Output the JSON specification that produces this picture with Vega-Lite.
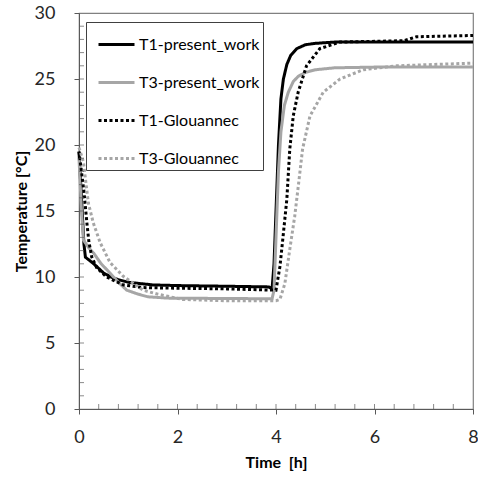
{
  "$schema": "https://vega.github.io/schema/vega-lite/v6.json",
  "width": 394,
  "height": 396,
  "autosize": {"type": "none"},
  "padding": {"left": 79, "top": 13, "right": 5, "bottom": 68},
  "config": {
    "view": {"stroke": "#808080", "strokeWidth": 1.2},
    "font": "Lato",
    "axis": {"domainColor": "#595959", "tickColor": "#595959", "grid": false, "labelColor": "#262626", "titleColor": "#000000", "labelFlush": false}
  },
  "datasets": {
    "xminor": [{"v": 0.4}, {"v": 0.8}, {"v": 1.2}, {"v": 1.6}, {"v": 2}, {"v": 2.4}, {"v": 2.8}, {"v": 3.2}, {"v": 3.6}, {"v": 4}, {"v": 4.4}, {"v": 4.8}, {"v": 5.2}, {"v": 5.6}, {"v": 6}, {"v": 6.4}, {"v": 6.8}, {"v": 7.2}, {"v": 7.6}],
    "yminor": [{"v": 1}, {"v": 2}, {"v": 3}, {"v": 4}, {"v": 5}, {"v": 6}, {"v": 7}, {"v": 8}, {"v": 9}, {"v": 10}, {"v": 11}, {"v": 12}, {"v": 13}, {"v": 14}, {"v": 15}, {"v": 16}, {"v": 17}, {"v": 18}, {"v": 19}, {"v": 20}, {"v": 21}, {"v": 22}, {"v": 23}, {"v": 24}, {"v": 25}, {"v": 26}, {"v": 27}, {"v": 28}, {"v": 29}],
    "curves": [
    {"s": "T1-present_work", "t": 0, "T": 19.5},
    {"s": "T1-present_work", "t": 0.05, "T": 16},
    {"s": "T1-present_work", "t": 0.1, "T": 12.5},
    {"s": "T1-present_work", "t": 0.13, "T": 11.5},
    {"s": "T1-present_work", "t": 0.3, "T": 11.0},
    {"s": "T1-present_work", "t": 0.5, "T": 10.3},
    {"s": "T1-present_work", "t": 0.7, "T": 9.9},
    {"s": "T1-present_work", "t": 1.0, "T": 9.6},
    {"s": "T1-present_work", "t": 1.5, "T": 9.4},
    {"s": "T1-present_work", "t": 2.0, "T": 9.35},
    {"s": "T1-present_work", "t": 3.0, "T": 9.3},
    {"s": "T1-present_work", "t": 3.85, "T": 9.25},
    {"s": "T1-present_work", "t": 3.92, "T": 9.1},
    {"s": "T1-present_work", "t": 3.96, "T": 11},
    {"s": "T1-present_work", "t": 4.0, "T": 15},
    {"s": "T1-present_work", "t": 4.05, "T": 20},
    {"s": "T1-present_work", "t": 4.1, "T": 23.5},
    {"s": "T1-present_work", "t": 4.15, "T": 25.0},
    {"s": "T1-present_work", "t": 4.22, "T": 26.1},
    {"s": "T1-present_work", "t": 4.3, "T": 26.8},
    {"s": "T1-present_work", "t": 4.42, "T": 27.3},
    {"s": "T1-present_work", "t": 4.6, "T": 27.6},
    {"s": "T1-present_work", "t": 4.8, "T": 27.7},
    {"s": "T1-present_work", "t": 5.2, "T": 27.8},
    {"s": "T1-present_work", "t": 8.0, "T": 27.8},
    {"s": "T3-present_work", "t": 0, "T": 19},
    {"s": "T3-present_work", "t": 0.05, "T": 15},
    {"s": "T3-present_work", "t": 0.09, "T": 12.8},
    {"s": "T3-present_work", "t": 0.2, "T": 12.2},
    {"s": "T3-present_work", "t": 0.3, "T": 11.8},
    {"s": "T3-present_work", "t": 0.45, "T": 11.0},
    {"s": "T3-present_work", "t": 0.63, "T": 10.3},
    {"s": "T3-present_work", "t": 0.8, "T": 9.6},
    {"s": "T3-present_work", "t": 0.97, "T": 9.0},
    {"s": "T3-present_work", "t": 1.2, "T": 8.7},
    {"s": "T3-present_work", "t": 1.4, "T": 8.5},
    {"s": "T3-present_work", "t": 1.8, "T": 8.4},
    {"s": "T3-present_work", "t": 3.92, "T": 8.35},
    {"s": "T3-present_work", "t": 3.96, "T": 9},
    {"s": "T3-present_work", "t": 4.0, "T": 13},
    {"s": "T3-present_work", "t": 4.05, "T": 18},
    {"s": "T3-present_work", "t": 4.1, "T": 21},
    {"s": "T3-present_work", "t": 4.17, "T": 23},
    {"s": "T3-present_work", "t": 4.25, "T": 24.0},
    {"s": "T3-present_work", "t": 4.35, "T": 24.8},
    {"s": "T3-present_work", "t": 4.45, "T": 25.2},
    {"s": "T3-present_work", "t": 4.6, "T": 25.5},
    {"s": "T3-present_work", "t": 4.8, "T": 25.7},
    {"s": "T3-present_work", "t": 5.2, "T": 25.85},
    {"s": "T3-present_work", "t": 6.0, "T": 25.9},
    {"s": "T3-present_work", "t": 8.0, "T": 25.9},
    {"s": "T1-Glouannec", "t": 0, "T": 19.5},
    {"s": "T1-Glouannec", "t": 0.05, "T": 18},
    {"s": "T1-Glouannec", "t": 0.1, "T": 16.5},
    {"s": "T1-Glouannec", "t": 0.16, "T": 14.1},
    {"s": "T1-Glouannec", "t": 0.2, "T": 12.7},
    {"s": "T1-Glouannec", "t": 0.26, "T": 11.5},
    {"s": "T1-Glouannec", "t": 0.36, "T": 10.7},
    {"s": "T1-Glouannec", "t": 0.56, "T": 10.0},
    {"s": "T1-Glouannec", "t": 0.9, "T": 9.4},
    {"s": "T1-Glouannec", "t": 1.3, "T": 9.2},
    {"s": "T1-Glouannec", "t": 2.0, "T": 9.15},
    {"s": "T1-Glouannec", "t": 3.0, "T": 9.1},
    {"s": "T1-Glouannec", "t": 4.0, "T": 9.0},
    {"s": "T1-Glouannec", "t": 4.08, "T": 10.8},
    {"s": "T1-Glouannec", "t": 4.15, "T": 13.3},
    {"s": "T1-Glouannec", "t": 4.22, "T": 15.9},
    {"s": "T1-Glouannec", "t": 4.28, "T": 19.7},
    {"s": "T1-Glouannec", "t": 4.35, "T": 22.2},
    {"s": "T1-Glouannec", "t": 4.45, "T": 24.0},
    {"s": "T1-Glouannec", "t": 4.62, "T": 26.0},
    {"s": "T1-Glouannec", "t": 4.89, "T": 27.3},
    {"s": "T1-Glouannec", "t": 5.3, "T": 27.8},
    {"s": "T1-Glouannec", "t": 6.6, "T": 27.9},
    {"s": "T1-Glouannec", "t": 6.85, "T": 28.2},
    {"s": "T1-Glouannec", "t": 8.0, "T": 28.3},
    {"s": "T3-Glouannec", "t": 0, "T": 19.8},
    {"s": "T3-Glouannec", "t": 0.05, "T": 19.2},
    {"s": "T3-Glouannec", "t": 0.09, "T": 18.7},
    {"s": "T3-Glouannec", "t": 0.19, "T": 15.6},
    {"s": "T3-Glouannec", "t": 0.29, "T": 14.1},
    {"s": "T3-Glouannec", "t": 0.43, "T": 12.6},
    {"s": "T3-Glouannec", "t": 0.63, "T": 11.1},
    {"s": "T3-Glouannec", "t": 0.9, "T": 10.05},
    {"s": "T3-Glouannec", "t": 1.3, "T": 9.0},
    {"s": "T3-Glouannec", "t": 1.6, "T": 8.7},
    {"s": "T3-Glouannec", "t": 1.85, "T": 8.5},
    {"s": "T3-Glouannec", "t": 2.1, "T": 8.3},
    {"s": "T3-Glouannec", "t": 3.0, "T": 8.2},
    {"s": "T3-Glouannec", "t": 4.0, "T": 8.2},
    {"s": "T3-Glouannec", "t": 4.08, "T": 8.3},
    {"s": "T3-Glouannec", "t": 4.18, "T": 9.5},
    {"s": "T3-Glouannec", "t": 4.28, "T": 12.1},
    {"s": "T3-Glouannec", "t": 4.38, "T": 14.6},
    {"s": "T3-Glouannec", "t": 4.45, "T": 16.8},
    {"s": "T3-Glouannec", "t": 4.54, "T": 19.7},
    {"s": "T3-Glouannec", "t": 4.69, "T": 22.2},
    {"s": "T3-Glouannec", "t": 4.96, "T": 24.0},
    {"s": "T3-Glouannec", "t": 5.3, "T": 25.0},
    {"s": "T3-Glouannec", "t": 5.77, "T": 25.7},
    {"s": "T3-Glouannec", "t": 6.45, "T": 26.0},
    {"s": "T3-Glouannec", "t": 7.2, "T": 26.1},
    {"s": "T3-Glouannec", "t": 8.0, "T": 26.2}
  ]},
  "layer": [
    {
      "data": {"name": "curves"},
      "mark": {"type": "line", "strokeWidth": 3},
      "encoding": {
        "x": {"field": "t", "type": "quantitative", "scale": {"domain": [0, 8], "nice": false},
          "axis": {"orient": "bottom", "values": [0, 2, 4, 6, 8], "tickSize": 5, "labelPadding": 14, "labelFontSize": 18, "title": "Time\u00a0\u00a0[h]", "titleFontSize": 16, "titleFontWeight": "bold", "titlePadding": 8,
            "encode": {"ticks": {"update": {"y": {"value": -5}}}}}},
        "y": {"field": "T", "type": "quantitative", "scale": {"domain": [0, 30], "nice": false},
          "axis": {"orient": "left", "values": [0, 5, 10, 15, 20, 25, 30], "tickSize": 5, "labelPadding": 19, "labelFontSize": 18, "title": "Temperature [°C]", "titleFontSize": 16, "titleFontWeight": "bold", "titlePadding": 5,
            "encode": {"ticks": {"update": {"x": {"value": 5}}}}}},
        "color": {"field": "s", "type": "nominal",
          "scale": {"domain": ["T1-present_work", "T3-present_work", "T1-Glouannec", "T3-Glouannec"], "range": ["#000000", "#a6a6a6", "#000000", "#a6a6a6"]},
          "legend": {"title": null, "orient": "none", "legendX": 7, "legendY": 9, "fillColor": "#ffffff", "strokeColor": "#404040", "padding": 3, "symbolOffset": 8, "rowPadding": 10, "symbolType": "stroke", "symbolSize": 1296, "symbolStrokeWidth": 3, "labelFontSize": 16, "labelColor": "#000000", "labelOffset": 3}},
        "strokeDash": {"field": "s", "type": "nominal",
          "scale": {"domain": ["T1-present_work", "T3-present_work", "T1-Glouannec", "T3-Glouannec"], "range": [[1, 0], [1, 0], [3, 2.5], [3, 2.5]]},
          "legend": {"title": null, "orient": "none", "legendX": 7, "legendY": 9, "fillColor": "#ffffff", "strokeColor": "#404040", "padding": 3, "symbolOffset": 8, "rowPadding": 10, "symbolType": "stroke", "symbolSize": 1296, "symbolStrokeWidth": 3, "labelFontSize": 16, "labelColor": "#000000", "labelOffset": 3}}
      }
    },
    {
      "data": {"name": "xminor"},
      "mark": {"type": "tick", "orient": "vertical", "size": 5, "thickness": 1, "yOffset": -2.5, "color": "#595959"},
      "encoding": {
        "x": {"field": "v", "type": "quantitative"},
        "y": {"datum": 0, "type": "quantitative"}
      }
    },
    {
      "data": {"name": "yminor"},
      "mark": {"type": "tick", "orient": "horizontal", "size": 5, "thickness": 1, "xOffset": 2.5, "color": "#595959"},
      "encoding": {
        "x": {"datum": 0, "type": "quantitative"},
        "y": {"field": "v", "type": "quantitative"}
      }
    }
  ]
}
